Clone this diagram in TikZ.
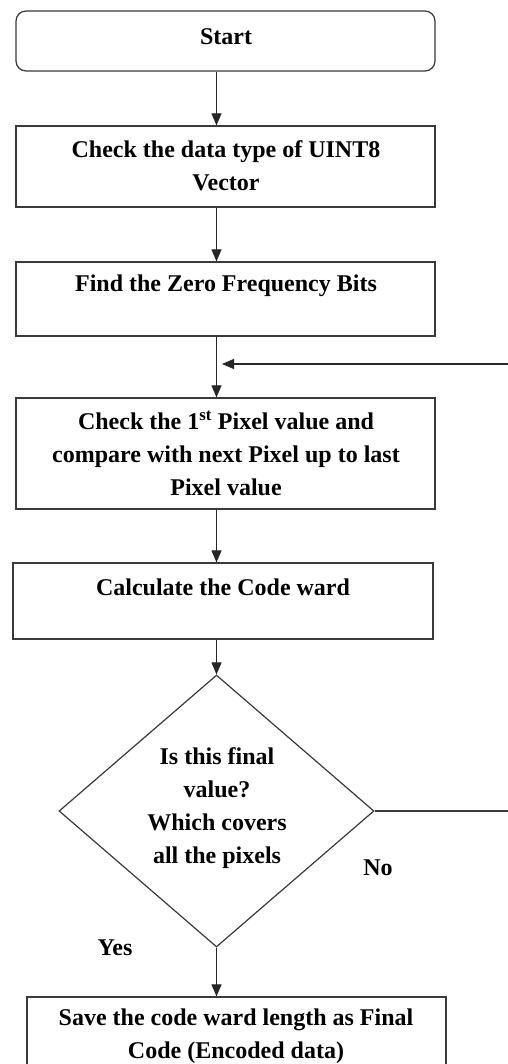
\documentclass[tikz,border=0pt]{standalone}
\usepackage{fontspec}
\setmainfont{Liberation Serif}
\usetikzlibrary{shapes.geometric,arrows.meta}
\definecolor{linegray}{HTML}{3A3A3A}
\begin{document}
\begin{tikzpicture}[x=1pt,y=-1pt,
  box/.style={draw=linegray,line width=1.2pt,rectangle,inner sep=0pt,minimum width=419pt},
  startbox/.style={box,rounded corners=10pt},
  decbox/.style={draw=linegray,line width=1.2pt,diamond,inner sep=0pt,minimum width=315pt,minimum height=272pt},
  txt/.style={inner sep=0pt,align=center,font=\fontsize{24}{33}\selectfont\bfseries},
  arr/.style={draw=black!85,line width=1.1pt,-{Triangle[width=10pt,length=12pt]}},
  ln/.style={draw=linegray,line width=1.2pt}]
\useasboundingbox (0,0) rectangle (507,1064);
\fill[white] (0,0) rectangle (507,1064);
% shapes
\node[startbox,minimum height=60pt] (start) at (225.5,41) {};
\node[box,minimum height=81pt] (b2) at (225.5,166.5) {};
\node[box,minimum height=74pt] (b3) at (225.5,299) {};
\node[box,minimum height=111pt] (b4) at (225.5,453.5) {};
\node[box,minimum width=420pt,minimum height=76pt] (b5) at (223,601) {};
\node[decbox] (dia) at (216.5,811) {};
\node[box,minimum height=100pt] (fin) at (236.5,1047) {};
% texts
\node[txt] (tstart) at (226,37) {Start};
\node[txt] (t2) at (226,166) {Check the data type of UINT8\\Vector};
\node[txt] (t3) at (226,286) {Find the Zero Frequency Bits};
\node[txt] (t4) at (226,453.5) {Check the 1\textsuperscript{st} Pixel value and\\compare with next Pixel up to last\\Pixel value};
\node[txt] (t5) at (223,587) {Calculate the Code ward};
\node[txt] (tdia) at (217,808) {Is this final\\value?\\Which covers\\all the pixels};
\node[txt] (tno) at (378,868) {No};
\node[txt] (tyes) at (115,948) {Yes};
\node[txt] (tfin) at (236,1036) {Save the code ward length as Final\\Code (Encoded data)};
% connectors
\draw[arr] (start.south -| dia.north) -- (b2.north -| dia.north);
\draw[arr] (b2.south -| dia.north) -- (b3.north -| dia.north);
\draw[arr] (b3.south -| dia.north) -- (b4.north -| dia.north);
\draw[arr] (b4.south -| dia.north) -- (b5.north -| dia.north);
\draw[arr] (b5.south -| dia.north) -- (dia.north);
\draw[arr] (dia.south) -- (fin.north -| dia.south);
\coordinate (fbR) at (530,364);
\coordinate (fbin) at (222,364);
\draw[ln] (dia.east) -- (dia.east -| fbR) -- (fbR);
\draw[arr] (fbR) -- (fbin);
\end{tikzpicture}
\end{document}
